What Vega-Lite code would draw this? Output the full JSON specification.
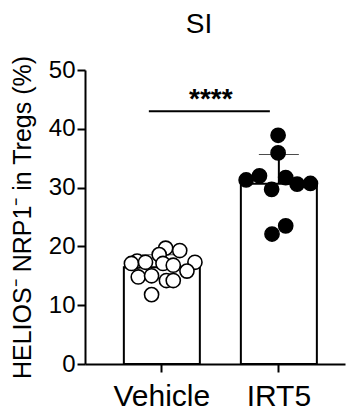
{
  "$schema": "https://vega.github.io/schema/vega-lite/v6.json",
  "autosize": {"type": "none"},
  "padding": {"left": 85, "top": 70, "right": 2, "bottom": 48},
  "width": 260,
  "height": 294,
  "background": "white",
  "title": {"text": "SI", "fontSize": 28, "font": "Liberation Sans", "fontWeight": "normal", "color": "black", "baseline": "alphabetic", "offset": -6, "dx": -16},
  "config": {
    "view": {"stroke": null},
    "font": "Liberation Sans"
  },
  "datasets": {
    "points": [
      {"group": "Vehicle", "value": 19.7, "jitter": 0.10},
      {"group": "Vehicle", "value": 19.3, "jitter": 0.47},
      {"group": "Vehicle", "value": 18.6, "jitter": -0.07},
      {"group": "Vehicle", "value": 17.5, "jitter": -0.65},
      {"group": "Vehicle", "value": 17.1, "jitter": -0.80},
      {"group": "Vehicle", "value": 17.3, "jitter": -0.43},
      {"group": "Vehicle", "value": 17.1, "jitter": 0.03},
      {"group": "Vehicle", "value": 17.3, "jitter": 0.87},
      {"group": "Vehicle", "value": 16.8, "jitter": 0.30},
      {"group": "Vehicle", "value": 15.8, "jitter": 0.66},
      {"group": "Vehicle", "value": 14.8, "jitter": -0.62},
      {"group": "Vehicle", "value": 15.0, "jitter": -0.27},
      {"group": "Vehicle", "value": 14.2, "jitter": 0.12},
      {"group": "Vehicle", "value": 14.2, "jitter": 0.30},
      {"group": "Vehicle", "value": 11.8, "jitter": -0.27},
      {"group": "IRT5", "value": 38.9, "jitter": -0.02},
      {"group": "IRT5", "value": 35.9, "jitter": -0.02},
      {"group": "IRT5", "value": 32.0, "jitter": -0.51},
      {"group": "IRT5", "value": 31.3, "jitter": -0.86},
      {"group": "IRT5", "value": 31.7, "jitter": 0.18},
      {"group": "IRT5", "value": 30.6, "jitter": 0.48},
      {"group": "IRT5", "value": 30.7, "jitter": 0.83},
      {"group": "IRT5", "value": 29.7, "jitter": -0.19},
      {"group": "IRT5", "value": 23.5, "jitter": 0.18},
      {"group": "IRT5", "value": 22.1, "jitter": -0.18}
    ],
    "sig": [
      {"from": "Vehicle", "to": "IRT5", "y": 43, "label": "****"}
    ]
  },
  "encoding": {
    "x": {
      "field": "group", "type": "nominal", "sort": ["Vehicle", "IRT5"],
      "scale": {"domain": ["Vehicle", "IRT5"], "paddingInner": 0.35, "paddingOuter": 0.286, "align": 0.58},
      "axis": {"title": null, "labelAngle": 0, "labelFontSize": 30, "labelColor": "black", "labelPadding": 9, "tickSize": 8, "tickWidth": 2, "tickColor": "black", "domainWidth": 2, "domainColor": "black", "labelFont": "Liberation Sans"}
    }
  },
  "layer": [
    {
      "data": {"name": "points"},
      "mark": {"type": "errorbar", "extent": "stdev", "ticks": {"size": 40, "strokeWidth": 2, "color": "black"}, "rule": {"strokeWidth": 2, "color": "black"}},
      "encoding": {
        "y": {"field": "value", "type": "quantitative", "title": "HELIOS⁻ NRP1⁻ in Tregs (%)"}
      }
    },
    {
      "data": {"name": "points"},
      "mark": {"type": "bar", "fill": "white", "stroke": "black", "strokeWidth": 2, "width": 76},
      "encoding": {
        "y": {
          "aggregate": "mean", "field": "value", "type": "quantitative",
          "title": "HELIOS⁻ NRP1⁻ in Tregs (%)",
          "scale": {"domain": [0, 50], "nice": false},
          "axis": {"titleFontSize": 25, "titleFontWeight": "normal", "titleColor": "black", "titlePadding": 13, "titleFont": "Liberation Sans", "values": [0, 10, 20, 30, 40, 50], "grid": false, "labelFontSize": 24, "labelColor": "black", "labelPadding": 2, "tickSize": 8, "tickWidth": 2, "tickColor": "black", "domainWidth": 2, "domainColor": "black", "labelFont": "Liberation Sans"}
        }
      }
    },
    {
      "data": {"name": "points"},
      "mark": {"type": "point", "shape": "circle", "filled": true, "size": 200, "stroke": "black", "strokeWidth": 1.6, "opacity": 1},
      "encoding": {
        "y": {"field": "value", "type": "quantitative", "title": "HELIOS⁻ NRP1⁻ in Tregs (%)"},
        "xOffset": {"field": "jitter", "type": "quantitative", "scale": {"domain": [-1, 1]}},
        "fill": {"field": "group", "type": "nominal", "scale": {"domain": ["Vehicle", "IRT5"], "range": ["white", "black"]}, "legend": null}
      }
    },
    {
      "data": {"name": "sig"},
      "mark": {"type": "rule", "strokeWidth": 2, "color": "black", "xOffset": -13, "x2Offset": -9},
      "encoding": {
        "x": {"field": "from", "type": "nominal"},
        "x2": {"field": "to"},
        "y": {"field": "y", "type": "quantitative", "title": "HELIOS⁻ NRP1⁻ in Tregs (%)"}
      }
    },
    {
      "data": {"name": "sig"},
      "mark": {"type": "text", "fontSize": 28, "fontWeight": "bold", "font": "Liberation Sans", "color": "black", "dx": 49, "dy": -3, "baseline": "alphabetic"},
      "encoding": {
        "x": {"field": "from", "type": "nominal"},
        "y": {"field": "y", "type": "quantitative", "title": "HELIOS⁻ NRP1⁻ in Tregs (%)"},
        "text": {"field": "label"}
      }
    }
  ]
}
